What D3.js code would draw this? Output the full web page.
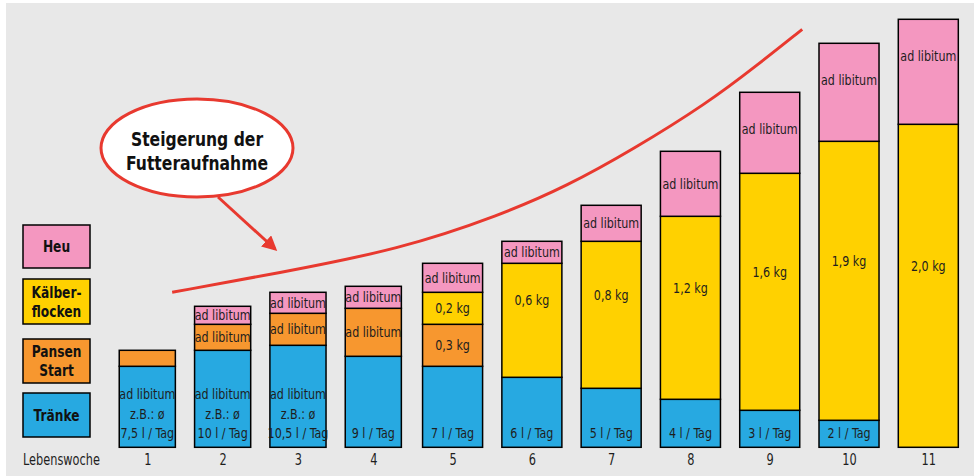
<!DOCTYPE html>
<html>
<head>
<meta charset="utf-8">
<script src="https://cdn.jsdelivr.net/npm/d3@7"></script>
<style>
  html, body { margin: 0; padding: 0; background: #ffffff; }
  svg { display: block; }
  .cond { font-family: "Liberation Sans Narrow", "DejaVu Sans Condensed", "Arial Narrow", sans-serif; }
</style>
</head>
<body>
<svg id="chart" width="980" height="476"></svg>
<script>
// ---------- data ----------
const weeks = [1, 2, 3, 4, 5, 6, 7, 8, 9, 10, 11];
const tickLabels = ["1", "2", "3", "4", "5", "6", "7", "8", "9", "10", "11"];
// relative heights
const traenke = [81, 97, 102, 91, 81, 70, 59, 48, 37, 27, 0];
const pansen  = [16, 26, 32, 48, 42, 0, 0, 0, 0, 0, 0];
const flocken = [0, 0, 0, 0, 32, 114, 147, 183, 237, 279, 323];
const heu     = [0, 18, 21, 22, 29, 22, 36, 65, 81, 98, 105];

const traenkeLabels = [
  ["ad libitum", "z.B.: ø", "7,5 l / Tag"],
  ["ad libitum", "z.B.: ø", "10 l / Tag"],
  ["ad libitum", "z.B.: ø", "10,5 l / Tag"],
  ["9 l / Tag"], ["7 l / Tag"], ["6 l / Tag"], ["5 l / Tag"],
  ["4 l / Tag"], ["3 l / Tag"], ["2 l / Tag"], []
];
const pansenLabels  = ["", "ad libitum", "ad libitum", "ad libitum", "0,3 kg", "", "", "", "", "", ""];
const flockenLabels = ["", "", "", "", "0,2 kg", "0,6 kg", "0,8 kg", "1,2 kg", "1,6 kg", "1,9 kg", "2,0 kg"];
const heuLabels     = ["", "ad libitum", "ad libitum", "ad libitum", "ad libitum", "ad libitum",
                       "ad libitum", "ad libitum", "ad libitum", "ad libitum", "ad libitum"];

const seriesKeys   = ["traenke", "pansen", "flocken", "heu"];
const seriesColors = ["#27a9e1", "#f7972f", "#ffd100", "#f497c0"];
const legendNames  = [["Tränke"], ["Pansen", "Start"], ["Kälber-", "flocken"], ["Heu"]];

// trend curve (week, level)
const curveWeek  = [1.33, 2.72, 4.34, 5.60, 6.44, 7.28, 8.21, 8.84, 9.41];
const curveLevel = [155, 174, 198, 232, 261, 298, 344, 382, 418];

const calloutLines = ["Steigerung der", "Futteraufnahme"];
const axisTitle = "Lebenswoche";

// ---------- helpers ----------
const svg = d3.select("#chart");
function squash(text, size, target, weight) {
  const t = svg.append("text").attr("class", "cond").attr("font-size", size)
    .attr("font-weight", weight || "normal").text(text);
  const w = t.node().getComputedTextLength();
  t.remove();
  return Math.min(1, target / w);
}
const barSize = 14,    barSx = squash("ad libitum", barSize, 56);
const axisSize = 15,   axisSx = squash("Lebenswoche", axisSize, 77);
const legSize = 16,    legSx = squash("Kälber-", legSize, 50, "bold");
const callSize = 20,   callSx = squash("Futteraufnahme", callSize, 142, "bold");

function label(parent, px, py, str, size, sx, opts) {
  opts = opts || {};
  return parent.append("text").attr("class", "cond")
    .attr("transform", `translate(${px},${py}) scale(${sx},1)`)
    .attr("dy", "0.36em")
    .attr("text-anchor", opts.anchor || "middle")
    .attr("font-size", size)
    .attr("font-weight", opts.weight || "normal")
    .attr("fill", opts.fill || "#1e1e1e")
    .text(str);
}

// ---------- build ----------
const rows = weeks.map((w, i) => ({
  week: w, traenke: traenke[i], pansen: pansen[i], flocken: flocken[i], heu: heu[i]
}));
const labelsBy = { traenke: traenkeLabels, pansen: pansenLabels, flocken: flockenLabels, heu: heuLabels };

svg.append("rect").attr("x", 6).attr("y", 3).attr("width", 968).attr("height", 473).attr("fill", "#e8e8e8");

const x = d3.scaleLinear().domain([1, 4, 11]).range([147.3, 373.3, 928.3]);
const y = d3.scaleLinear().domain([0, 430]).range([447.3, 17.3]);
const color = d3.scaleOrdinal().domain(seriesKeys).range(seriesColors);
const bw = w => (w <= 4 ? (x(4) - x(1)) / 3 * 0.745 : (x(11) - x(4)) / 7 * 0.757);

const layers = d3.stack().keys(seriesKeys)(rows);

const g = svg.append("g");
layers.forEach(layer => {
  const key = layer.key;
  const segs = layer.filter(d => d[1] - d[0] > 0);
  g.selectAll(null).data(segs).enter().append("rect")
    .attr("x", d => x(d.data.week) - bw(d.data.week) / 2)
    .attr("width", d => bw(d.data.week))
    .attr("y", d => y(d[1]))
    .attr("height", d => y(d[0]) - y(d[1]))
    .attr("fill", color(key))
    .attr("stroke", "#000")
    .attr("stroke-width", 1.5);
});

// labels
layers.forEach(layer => {
  const key = layer.key;
  layer.forEach((d, i) => {
    if (d[1] - d[0] <= 0) return;
    const top = y(d[1]), bot = y(d[0]), cx = x(d.data.week);
    const center = (top + bot) / 2;
    if (key === "traenke") {
      const lines = labelsBy.traenke[i];
      const n = lines.length;
      lines.forEach((t, j) => label(g, cx, bot - 14 - (n - 1 - j) * 19.5, t, barSize, barSx));
    } else {
      const t = labelsBy[key][i];
      if (!t) return;
      let ly = center;
      if (key === "heu") ly = Math.min(center, top + 37);
      if (key === "flocken" && bot - top > 60) ly = center - 20;
      label(g, cx, ly, t, barSize, barSx);
    }
  });
});

// x axis labels (no line)
const axis = d3.axisBottom(x).tickValues(weeks).tickFormat((d, i) => tickLabels[i]).tickSize(0).tickPadding(0);
const ax = svg.append("g").attr("transform", "translate(0,460)").call(axis);
ax.select(".domain").remove();
ax.selectAll("text").attr("class", "cond").attr("font-size", axisSize).attr("fill", "#1e1e1e")
  .attr("font-family", null).attr("y", 0).attr("dy", "0.36em").attr("transform", `scale(${axisSx},1)`);
label(svg, 23, 460, axisTitle, axisSize, axisSx, { anchor: "start" });

// legend
const legendTop = [393, 339, 279, 225];
const legendH   = [44, 44, 45, 43];
seriesKeys.forEach((k, i) => {
  const lg = svg.append("g");
  lg.append("rect").attr("x", 23).attr("y", legendTop[i]).attr("width", 67).attr("height", legendH[i])
    .attr("fill", color(k)).attr("stroke", "#000").attr("stroke-width", 1.5);
  const lines = legendNames[i];
  const cy = legendTop[i] + legendH[i] / 2;
  lines.forEach((t, j) =>
    label(lg, 56.5, cy + (j - (lines.length - 1) / 2) * 19, t, legSize, legSx, { weight: "bold", fill: "#111" }));
});

// trend curve
const red = "#e8392f";
const curvePts = curveWeek.map((w, i) => [x(w), y(curveLevel[i])]);
svg.append("path").attr("d", d3.line().curve(d3.curveBasis)(curvePts))
  .attr("fill", "none").attr("stroke", red).attr("stroke-width", 3);

// callout
svg.append("defs").append("marker").attr("id", "ah").attr("viewBox", "0 0 10 10")
  .attr("refX", 8).attr("refY", 5).attr("markerWidth", 5).attr("markerHeight", 5)
  .attr("orient", "auto").attr("markerUnits", "strokeWidth")
  .append("path").attr("d", "M0,0 L10,5 L0,10 z").attr("fill", red);
svg.append("line").attr("x1", 218).attr("y1", 197).attr("x2", 275).attr("y2", 249)
  .attr("stroke", red).attr("stroke-width", 3).attr("marker-end", "url(#ah)");
svg.append("ellipse").attr("cx", 197).attr("cy", 148).attr("rx", 96).attr("ry", 49)
  .attr("fill", "#fff").attr("stroke", red).attr("stroke-width", 3);
calloutLines.forEach((t, j) =>
  label(svg, 197, 139 + j * 24, t, callSize, callSx, { weight: "bold", fill: "#111" }));
</script>
</body>
</html>
